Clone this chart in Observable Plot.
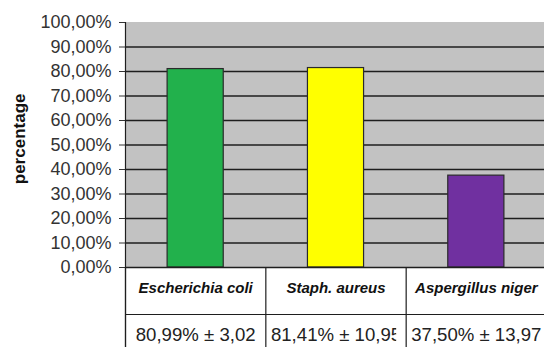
<!DOCTYPE html>
<html>
<head>
<meta charset="utf-8">
<script src="https://cdn.jsdelivr.net/npm/d3@7"></script>
<script src="https://cdn.jsdelivr.net/npm/@observablehq/plot@0.6"></script>
<style>
  html, body { margin: 0; padding: 0; background: #fff; overflow: hidden; }
  svg { display: block; }
</style>
</head>
<body>
<div id="chart"></div>
<script>
// Organisms tested, mean percentage and standard deviation
const categories = ["Escherichia coli", "Staph. aureus", "Aspergillus niger"];
const values = [0.8099, 0.8141, 0.3750];
const deviations = [0.0302, 0.1095, 0.1397];
const colors = ["#22b14c", "#ffff00", "#7030a0"];
const yTicks = [0, 0.1, 0.2, 0.3, 0.4, 0.5, 0.6, 0.7, 0.8, 0.9, 1];
const gridLines = [0.1, 0.2, 0.3, 0.4, 0.5, 0.6, 0.7, 0.8, 0.9];

const pct = v => (v * 100).toFixed(2).replace(".", ",") + "%";
const num = v => (v * 100).toFixed(2).replace(".", ",");

const rows = categories.map((name, i) => ({
  name,
  i,
  value: values[i],
  color: colors[i],
  label: `${pct(values[i])} ± ${num(deviations[i])}`
}));
const cellEdges = [0, 1, 2];
const yMin = -0.3265;

const plot = Plot.plot({
  width: 544,
  height: 347,
  marginTop: 22,
  marginBottom: 0,
  marginLeft: 125,
  marginRight: 0,
  style: { fontFamily: "'Liberation Sans', Arial, sans-serif", fontSize: "18px", background: "#fff", color: "#333" },
  x: { type: "linear", domain: [0, 3], range: [125, 546], axis: null },
  y: {
    domain: [yMin, 1],
    ticks: yTicks,
    tickFormat: pct,
    tickSize: 6,
    tickPadding: 8,
    label: null
  },
  marks: [
    // plot background
    Plot.rect([0], { x1: 0, x2: 3, y1: 0, y2: 1, fill: "#c2c2c2" }),
    // horizontal gridlines
    Plot.ruleY(gridLines, { x1: 0, x2: 3, stroke: "#1e1e1e", strokeWidth: 1.3 }),
    // bars
    Plot.rect(rows, {
      x1: d => d.i + 0.3,
      x2: d => d.i + 0.7,
      y1: 0,
      y2: "value",
      fill: "color",
      stroke: "#2a2a2a",
      strokeWidth: 1.2
    }),
    // value axis line and baseline
    Plot.ruleX([0], { y1: yMin, y2: 1, stroke: "#1e1e1e", strokeWidth: 1.2 }),
    Plot.ruleY([0], { x1: 0, x2: 3, stroke: "#1e1e1e", strokeWidth: 1.3 }),
    // data table beneath the chart
    Plot.ruleY([0], { x1: 0, x2: 3, dy: 47, stroke: "#1e1e1e", strokeWidth: 1.2 }),
    Plot.ruleX(cellEdges, { y1: 0, y2: yMin, stroke: "#1e1e1e", strokeWidth: 1.2 }),
    Plot.text(rows, {
      x: d => d.i + 0.5,
      y: 0,
      dy: 21,
      text: "name",
      fontSize: 15,
      fontWeight: "bold",
      fontStyle: "italic",
      fill: "#111"
    }),
    Plot.text(rows, {
      x: d => d.i + 0.5,
      y: 0,
      dy: 68,
      text: "label",
      fontSize: 18.6,
      fill: "#222"
    }),
    // value axis title
    Plot.text(["percentage"], {
      y: 0.525,
      frameAnchor: "left",
      dx: -106,
      rotate: -90,
      textAnchor: "middle",
      text: d => d,
      fontSize: 17,
      fontWeight: "bold",
      fill: "#111"
    })
  ]
});

// clip each table value to its own cell (long values are cut off at the next cell's edge)
const xs = plot.scale("x");
const labels = rows.map(d => d.label);
const svg = d3.select(plot);
const defs = svg.append("defs");
svg.selectAll("text")
  .filter(function () { return labels.includes(this.textContent); })
  .each(function () {
    const k = labels.indexOf(this.textContent);
    const left = xs.apply(k) + 1;
    const right = k < labels.length - 1 ? xs.apply(k + 1) - 10 : xs.apply(k + 1) + 10;
    const id = "cell-clip-" + k;
    defs.append("clipPath").attr("id", id)
      .append("rect").attr("x", left).attr("y", -1000).attr("width", right - left).attr("height", 3000);
    const wrapper = document.createElementNS("http://www.w3.org/2000/svg", "g");
    wrapper.setAttribute("clip-path", `url(#${id})`);
    this.parentNode.insertBefore(wrapper, this);
    wrapper.appendChild(this);
  });

document.getElementById("chart").appendChild(plot);
</script>
</body>
</html>
